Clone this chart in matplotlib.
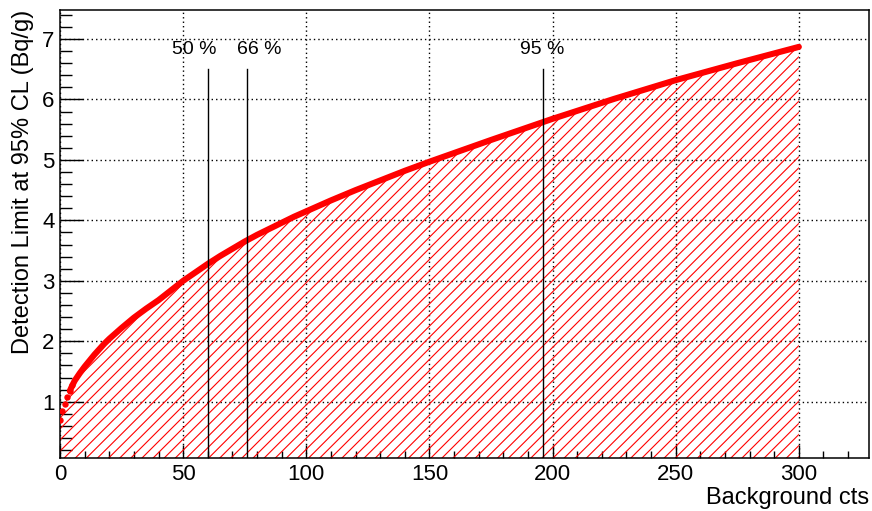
import matplotlib
matplotlib.use("Agg")
import matplotlib.pyplot as plt
import numpy as np

# values
bkg_cts = [0, 1, 2, 3, 4, 5, 6, 8, 10, 12, 14, 16, 18, 20, 25, 30, 35, 40,
           45, 50, 55, 60, 65, 70, 75, 80, 85, 90, 95, 100, 110, 120, 130,
           140, 150, 175, 200, 225, 250, 275, 300]
det_limit = [0.69, 0.85, 0.97, 1.08, 1.18, 1.27, 1.35, 1.47, 1.58, 1.68,
             1.78, 1.87, 1.96, 2.04, 2.22, 2.39, 2.54, 2.68, 2.84, 3.00,
             3.14, 3.28, 3.41, 3.53, 3.65, 3.76, 3.86, 3.96, 4.06, 4.15,
             4.33, 4.50, 4.66, 4.82, 4.97, 5.33, 5.68, 6.01, 6.32, 6.60, 6.87]

cl_lines = [60, 76, 196]
cl_labels = ["50 %", "66 %", "95 %"]
cl_label_x = [54.7, 80.8, 195.9]

plt.rcParams['font.family'] = ['Liberation Sans', 'DejaVu Sans']
plt.rcParams['hatch.linewidth'] = 0.8
plt.rcParams['hatch.color'] = 'red'

fig = plt.figure(figsize=(8.72, 5.11), dpi=100)
ax = fig.add_axes([0.0688, 0.1037, 0.9278, 0.8767])

ymin, ymax = 0.069, 7.48
xmin, xmax = 0, 328.5

x = np.array(bkg_cts, dtype=float)
y = np.array(det_limit)

ax.fill_between(x, ymin - 1, y, facecolor='none', edgecolor='red',
                hatch='///', linewidth=0, zorder=2)
# separate dots at the start, thick band after
ax.plot(x[:6], y[:6], 'o', color='red', ms=3.6, mec='red', zorder=4)
ax.plot(x[4:], y[4:], '-', color='red', lw=4.4, solid_capstyle='round',
        solid_joinstyle='round', zorder=4)

for xv in cl_lines:
    ax.plot([xv, xv], [ymin - 1, 6.5], color='black', lw=1.0, zorder=5)
for lab, xl in zip(cl_labels, cl_label_x):
    ax.text(xl, 6.82, lab, ha='center', va='center', fontsize=14)

ax.set_xlim(xmin, xmax)
ax.set_ylim(ymin, ymax)

ax.set_xticks(np.arange(0, 301, 50))
ax.set_xticks(np.arange(0, 321, 10), minor=True)
ax.set_yticks(np.arange(1, 8, 1))
ax.set_yticks(np.arange(0.2, 7.45, 0.2), minor=True)

ax.grid(True, which='major', color='black', linestyle=(0, (1, 2.2)), lw=1.0, zorder=1)
ax.set_axisbelow(True)

ax.tick_params(axis='both', which='both', direction='in', top=False, right=False,
               labelsize=16, width=1.0)
ax.tick_params(axis='x', which='major', length=9.5, pad=4)
ax.tick_params(axis='x', which='minor', length=5)
ax.tick_params(axis='y', which='major', length=16.5, pad=4)
ax.tick_params(axis='y', which='minor', length=8.5)

for sp in ax.spines.values():
    sp.set_linewidth(1.1)

ax.set_xlabel("Background cts", fontsize=17, loc='right', labelpad=2)
ax.set_ylabel("Detection Limit at 95% CL (Bq/g)", fontsize=17, loc='top', labelpad=6)

fig.savefig("out.png", dpi=100)
